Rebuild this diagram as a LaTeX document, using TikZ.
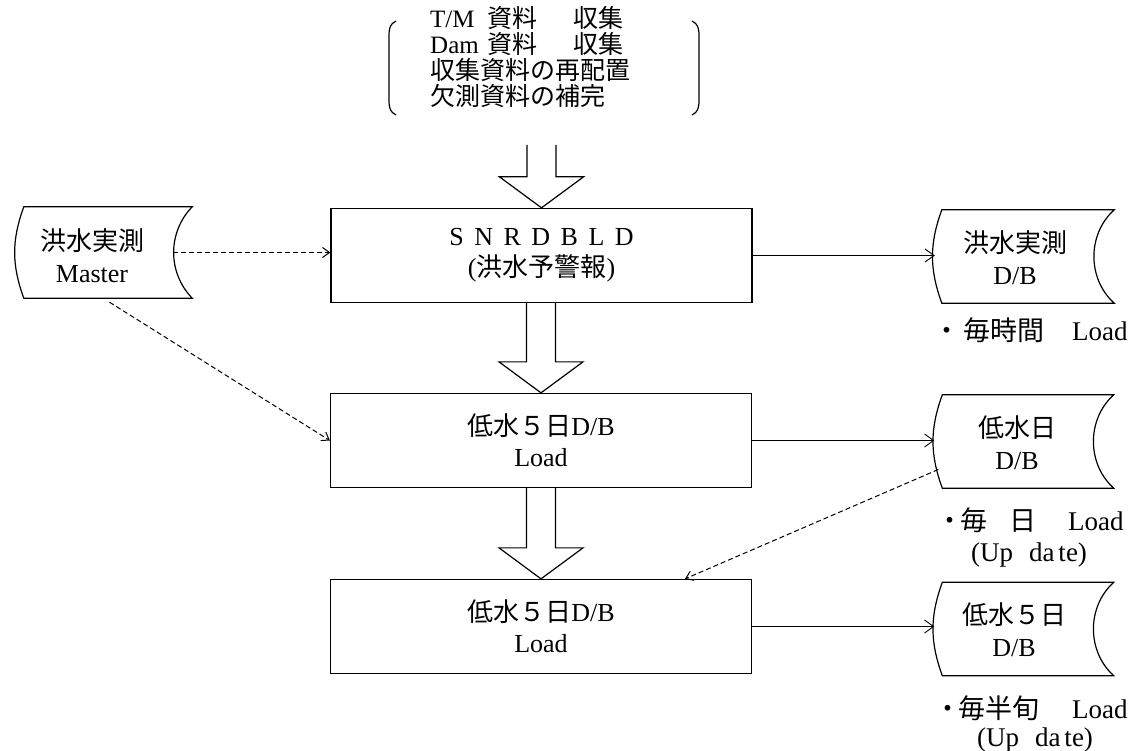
\documentclass[tikz,border=0pt]{standalone}
\usepackage{fontspec}
\setmainfont{Liberation Serif}
\newfontfamily\jp{Noto Sans CJK JP}
\usetikzlibrary{calc,arrows.meta}

\newcommand\bigarr[2]{%
  \draw[bigarrow] ($(#2 |- #1)+(-14.5,0)$) -- ($(#2)+(-14.5,-31)$) -- ($(#2)+(-42,-31)$) -- (#2)
    -- ($(#2)+(42,-31)$) -- ($(#2)+(14.5,-31)$) -- ($(#2 |- #1)+(14.5,0)$);}
\newcommand\storeoutline[3]{%
  \draw[storeline] ($(#1.north west)+(#2,0)$) -- (#1.north east) to[bend right=#3] (#1.south east)
    -- ($(#1.south west)+(#2,0)$) to[bend left=20] ($(#1.north west)+(#2,0)$) -- cycle;}

\begin{document}
\begin{tikzpicture}[x=1pt,y=-1pt,
  every node/.style={inner sep=0pt, font=\fontsize{26}{32}\selectfont},
  procbox/.style={draw, line width=1.3pt, minimum width=421pt, minimum height=94pt, align=center,
    font=\fontsize{26}{31}\selectfont},
  storebox/.style={minimum width=179pt, minimum height=93pt},
  storeline/.style={line width=1.2pt},
  txt/.style={align=center},
  srcline/.style={anchor=west, font=\fontsize{25}{26}\selectfont},
  lbl/.style={anchor=west, font=\fontsize{27}{30}\selectfont},
  flow/.style={line width=0.9pt, -{Straight Barb[length=9pt,width=13pt]}},
  dflow/.style={line width=1pt, dash pattern=on 5pt off 3pt, -{Straight Barb[length=7pt,width=10pt]}},
  bigarrow/.style={line width=1.2pt, line join=miter}]

\useasboundingbox (0,0) rectangle (1131,751);

% source list with brackets
\node[srcline] (src1) at (430,18) {\makebox[57pt][l]{T/M}{\jp 資料}\hspace{36pt}{\jp 収集}};
\node[srcline] (src2) at (430,44) {\makebox[57pt][l]{Dam}{\jp 資料}\hspace{36pt}{\jp 収集}};
\node[srcline] (src3) at (430,70) {{\jp 収集資料の再配置}};
\node[srcline] (src4) at (430,96) {{\jp 欠測資料の補完}};
\draw[line width=1.2pt] (396,21) .. controls (390,24) and (389,28) .. (389,36) -- (389,100)
  .. controls (389,108) and (390,112) .. (396,115);
\draw[line width=1.2pt] (692,21) .. controls (698,24) and (699,28) .. (699,36) -- (699,100)
  .. controls (699,108) and (698,112) .. (692,115);
\coordinate (a1) at (541.5,145);

% process boxes
\node[procbox] (b1) at (541.5,255.5)
  {S\hspace{10.5pt}N\hspace{10.5pt}R\hspace{10.5pt}D\hspace{10.5pt}B\hspace{10.5pt}L\hspace{10.5pt}D\\
   ({\jp 洪水予警報})};
\node[procbox] (b2) at (541,440.5) {{\jp 低水５日}D/B\\Load};
\node[procbox] (b3) at (541,626.5) {{\jp 低水５日}D/B\\Load};

\bigarr{a1}{b1.north}
\bigarr{b1.south}{b2.north}
\bigarr{b2.south}{b3.north}

% stored data symbols
\node[storebox, minimum width=177pt, minimum height=91pt] (m) at (103.5,252.5) {};
\storeoutline{m}{9}{44}
\node[txt] (mt) at (92,256) {{\jp 洪水実測}\\Master};

\node[storebox] (s1) at (1024.5,256.5) {};
\storeoutline{s1}{7}{48}
\node[txt] (s1t) at (1015,258) {{\jp 洪水実測}\\D/B};

\node[storebox] (s2) at (1024,441.5) {};
\storeoutline{s2}{8}{48}
\node[txt] (s2t) at (1017,442.5) {{\jp 低水日}\\D/B};

\node[storebox] (s3) at (1024,629) {};
\storeoutline{s3}{8}{48}
\node[txt] (s3t) at (1014,630) {{\jp 低水５日}\\D/B};

% labels
\node[lbl] (l1) at (940,330)
  {\makebox[14pt][c]{\jp ・}\hspace{9pt}{\jp 毎時間}\hspace{28pt}Load};
\node[lbl] (l2) at (943,520)
  {\makebox[14pt][c]{\jp ・}\hspace{3pt}{\jp 毎}\hspace{22pt}{\jp 日}\hspace{32pt}Load};
\node[lbl, anchor=center] (l2b) at (1029,555) {(Up\hspace{16pt}da\hspace{4pt}te)};
\node[lbl] (l3) at (941,708)
  {\makebox[14pt][c]{\jp ・}\hspace{3pt}{\jp 毎半旬}\hspace{33pt}Load};
\node[lbl, anchor=center] (l3b) at (1035,740) {(Up\hspace{16pt}da\hspace{4pt}te)};

% connectors
\draw[dflow] ($(m.east)+(-19,0)$) -- (b1.west |- m.east);
\draw[dflow] ($(m.south)+(6,4)$) -- (b2.west);
\draw[flow] (b1.east) -- (b1.east -| s1.west);
\draw[flow] (b2.east) -- (b2.east -| s2.west);
\draw[flow] (b3.east) -- (b3.east -| s3.west);
\draw[dflow] ($(s2.west)+(4,28)$) -- ($(b3.north)+(144,0)$);
\end{tikzpicture}
\end{document}
